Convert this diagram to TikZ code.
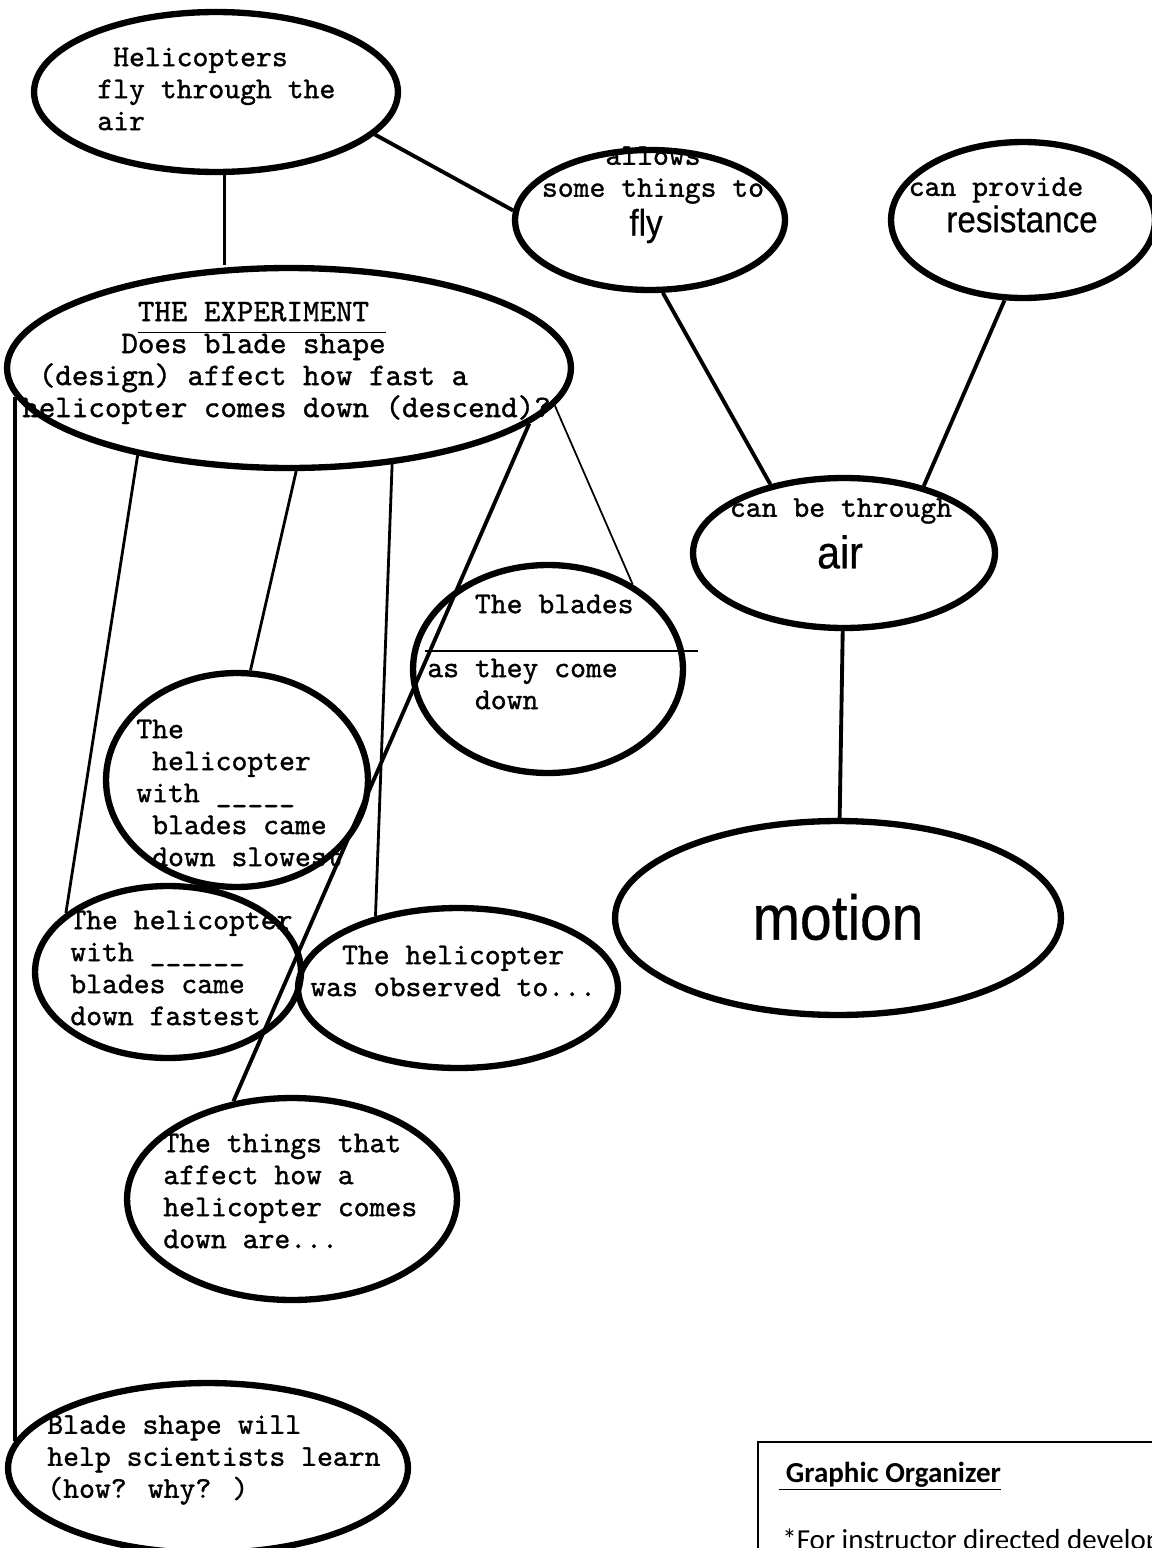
\documentclass[tikz,border=0pt]{standalone}
\usepackage{fontspec}
\usetikzlibrary{shapes.geometric}
\newfontfamily\typew{lmmono10-regular.otf}[FakeBold=1.1]
\newfontfamily\bigsans{Liberation Sans}[FakeStretch=0.9,FakeBold=0.6]
\newfontfamily\notefont{Carlito}
\tikzset{
  bubble/.style={draw, ellipse, line width=3.6pt, inner sep=0pt},
  typed/.style={font=\typew\fontsize{17.2}{18.2}\selectfont, align=left, anchor=west, inner sep=0pt},
  word/.style={font=\bigsans\fontsize{#1}{#1}\selectfont, inner sep=0pt},
  link/.style={line width=2.2pt},
  midlink/.style={line width=1.6pt},
  thinlink/.style={line width=1pt}
}
\begin{document}
\begin{tikzpicture}[x=0.02cm,y=-0.02cm]
  \useasboundingbox (0,0) rectangle (1152,1548);
  % bubbles
  \node[bubble, minimum width=7.28cm, minimum height=3.2cm] (heli) at (216,92) {};
  \node[bubble, minimum width=5.4cm, minimum height=2.8cm] (fly) at (650,220) {};
  \node[bubble, minimum width=5.28cm, minimum height=3.12cm] (res) at (1023,220) {};
  \node[bubble, minimum width=11.28cm, minimum height=4cm] (exp) at (289,368) {};
  \node[bubble, minimum width=6.04cm, minimum height=3cm] (air) at (844,553) {};
  \node[bubble, minimum width=8.92cm, minimum height=3.88cm] (motion) at (838,918) {};
  \node[bubble, minimum width=5.4cm, minimum height=4.16cm] (blades) at (548,669) {};
  \node[bubble, minimum width=5.24cm, minimum height=4.28cm] (slow) at (237,780) {};
  \node[bubble, minimum width=5.32cm, minimum height=3.44cm] (fast) at (168,972) {};
  \node[bubble, minimum width=6.4cm, minimum height=3.2cm] (obs) at (458,988) {};
  \node[bubble, minimum width=6.6cm, minimum height=4.04cm] (things) at (292,1199) {};
  \node[bubble, minimum width=8cm, minimum height=3.4cm] (learn) at (208,1468) {};
  % links
  \draw[midlink] (heli.276) -- (heli.276 |- exp.north);
  \draw[link] (heli.345) -- (fly.176);
  \draw[link] (fly.280) -- (air.137);
  \draw[link] (res.257) -- (air.40);
  \draw[link] (air) -- (motion);
  \draw[link] (exp.186) -- (exp.186 |- learn.172);
  \draw[midlink] (exp.210) -- (fast.150);
  \draw[midlink] (exp.274) -- (slow.83);
  \draw[midlink] (exp.317) -- (obs.139);
  \draw[link] (exp.347) -- (things.121);
  \draw[thinlink] (exp.352) -- (blades.45);
  % texts
  \node[typed] (heliT) at (97,89) {\hphantom{x}Helicopters\\fly through the\\air};
  \node[typed, anchor=center, align=center] (flyT) at (653,175) {allows\\some things to};
  \node[word=21] (flyW) at (646,226) {fly};
  \node[typed, anchor=center] (resT) at (996,190) {can provide};
  \node[word=21] (resW) at (1022,219) {resistance};
  \node[typed, font=\typew\fontsize{17.9}{18.2}\selectfont] (expT) at (22,363)
    {\hphantom{xxxxxxx}\underline{\rule[-5pt]{0pt}{0pt}THE EXPERIMENT\ }\\
     \hphantom{xxxxxx}Does blade shape\\
     \hphantom{x}(design) affect how fast a\\
     helicopter comes down (descend)?};
  \node[typed, anchor=center] (airT) at (841,511) {can be through};
  \node[word=26] (airW) at (840,552) {air};
  \node[word=36] (motionW) at (838,917) {motion};
  \node[typed] (bladesT) at (427,652) {\hphantom{xxx}The blades\\~\\as they come\\\hphantom{xxx}down};
  \draw[thinlink] (425,651) -- (698,651);
  \node[typed] (slowT) at (136,793)
    {The\\\hphantom{x}helicopter\\with \_\_\_\_\_\\\hphantom{x}blades came\\\hphantom{x}down slowest};
  \node[typed] (fastT) at (70,968) {The helicopter\\with \_\_\_\_\_\_\\blades came\\down fastest};
  \node[typed] (obsT) at (310,971) {\hphantom{xx}The helicopter\\was observed to...};
  \node[typed] (thingsT) at (163,1191) {The things that\\affect how a\\helicopter comes\\down are...};
  \node[typed] (learnT) at (47,1460) {Blade shape will\\help scientists learn\\(how? why? )};
  % note box
  \draw[line width=1.1pt] (758,1442) rectangle (1170,1570);
  \node[font=\notefont\bfseries\fontsize{16.5}{20}\selectfont, anchor=base west, inner sep=0pt]
    (noteT) at (779,1482) {\underline{\ Graphic Organizer}};
  \node[font=\notefont\fontsize{16.5}{20}\selectfont, anchor=base west, inner sep=0pt]
    (noteB) at (782,1549) {*For instructor directed develop};
\end{tikzpicture}
\end{document}
